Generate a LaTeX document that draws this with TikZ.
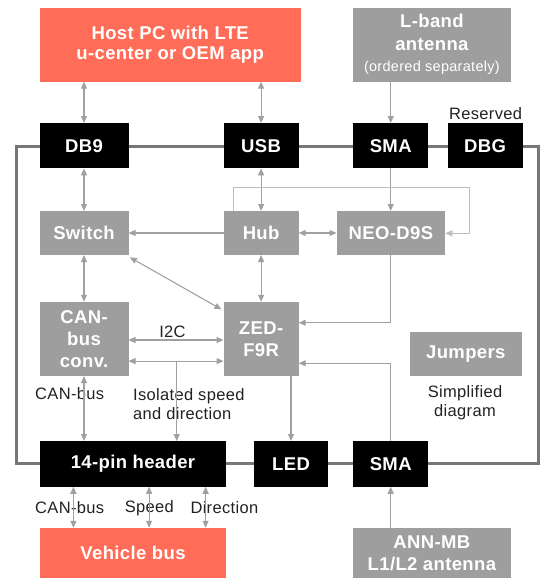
\documentclass[tikz,border=0pt]{standalone}
\usepackage{fontspec}
\setmainfont{Liberation Sans}[LetterSpace=2]
\newfontfamily\boxfont{Liberation Sans}[LetterSpace=2]
\usetikzlibrary{arrows.meta,calc}
\definecolor{salmon}{HTML}{FF6C58}
\definecolor{boxgray}{HTML}{9E9E9E}
\definecolor{framegray}{HTML}{767676}
\definecolor{linegray}{HTML}{A0A0A0}
\definecolor{loopgray}{HTML}{BDBDBD}
\definecolor{labeltext}{HTML}{222222}
\begin{document}
\begin{tikzpicture}[x=1pt,y=-1pt,
  box/.style={inner sep=0pt, outer sep=0pt, text=white, align=center,
    font=\boxfont\fontsize{18.5}{22}\selectfont\bfseries},
  hostbox/.style={box, fill=salmon},
  graybox/.style={box, fill=boxgray},
  blackbox/.style={box, fill=black},
  tip/.tip={Triangle[length=7pt,width=6pt]},
  conn/.style={draw=linegray, line width=1.1pt, -tip},
  biconn/.style={draw=linegray, line width=1.1pt, tip-tip},
  loopconn/.style={draw=loopgray, line width=1pt, -tip},
  lbl/.style={font=\fontsize{16.5}{18.5}\selectfont, text=labeltext, inner sep=0pt, align=left}
]
\useasboundingbox (0,0) rectangle (540,578);

% outer frame
\draw[framegray, line width=3pt] (16.2,146.5) rectangle (538,463.5);

% top external boxes
\node[hostbox, minimum width=261pt, minimum height=74pt, font=\boxfont\fontsize{18.5}{20}\selectfont\bfseries] (host) at (170.2,44.7) {Host PC with LTE\\u-center or OEM app};
\node[graybox, minimum width=157.7pt, minimum height=74pt, font=\boxfont\fontsize{18.5}{23}\selectfont\bfseries] (lband) at (431.9,44.7) {L-band\\antenna\\[-2pt]{\fontsize{14.5}{18}\selectfont\mdseries(ordered separately)}};

% connectors on frame top
\node[blackbox, minimum width=89pt, minimum height=45.3pt] (db9) at (84,145.7) {DB9};
\node[blackbox, minimum width=75.2pt, minimum height=45.3pt] (usb) at (261.1,145.7) {USB};
\node[blackbox, minimum width=75.5pt, minimum height=45.3pt] (sma1) at (390.7,145.7) {SMA};
\node[blackbox, minimum width=74.8pt, minimum height=45.3pt] (dbg) at (485.1,145.7) {DBG};
\node[lbl] (reserved) at (485.6,113.6) {Reserved};

% inner blocks
\node[graybox, minimum width=89pt, minimum height=44pt] (switch) at (84,233) {Switch};
\node[graybox, minimum width=75.2pt, minimum height=44pt] (hub) at (261.1,233) {Hub};
\node[graybox, minimum width=108.8pt, minimum height=44pt] (neo) at (390.9,233) {NEO-D9S};
\node[graybox, minimum width=89pt, minimum height=74.3pt] (can) at (84,338.9) {CAN-\\bus\\conv.};
\node[graybox, minimum width=75.2pt, minimum height=74.3pt] (zed) at (261.1,338.9) {ZED-\\F9R};
\node[graybox, minimum width=112pt, minimum height=44.3pt] (jumpers) at (465.8,353.9) {Jumpers};

% bottom frame connectors
\node[blackbox, minimum width=186.7pt, minimum height=45.7pt] (header) at (133,463.9) {14-pin header};
\node[blackbox, minimum width=74.4pt, minimum height=45.7pt] (led) at (291,463.9) {LED};
\node[blackbox, minimum width=75.5pt, minimum height=45.7pt] (sma2) at (390.7,463.9) {SMA};

% bottom external boxes
\node[hostbox, minimum width=186.7pt, minimum height=50.3pt] (vehicle) at (133,552.9) {Vehicle bus};
\node[graybox, minimum width=157.7pt, minimum height=50.3pt] (ann) at (431.9,552.9) {ANN-MB\\L1/L2 antenna};

% labels
\node[lbl, anchor=west] (canlbl1) at (35,393.3) {CAN-bus};
\node[lbl, anchor=west] (isolbl) at (133,404.2) {Isolated speed\\and direction};
\node[lbl, align=center] (simplbl) at (465,402.5) {Simplified\\diagram};
\node[lbl] (i2clbl) at (172.5,331.7) {I2C};
\node[lbl, anchor=west] (canlbl2) at (35,508) {CAN-bus};
\node[lbl] (speedlbl) at (149.3,508.7) {Speed};
\node[lbl] (dirlbl) at (224.4,508) {Direction};

% helper coordinates
\coordinate (lt) at (469,187.3);
\coordinate (iso) at (176.7,361.1);
\coordinate (v1) at (73.4,500);
\coordinate (v2) at (149.1,500);
\coordinate (v3) at (205.6,500);

% external links
\draw[biconn] (db9.north) -- (db9.north |- host.south);
\draw[biconn] (usb.north) -- (usb.north |- host.south);
\draw[conn] (sma1.north |- lband.south) -- (sma1.north);

% internal links
\draw[biconn] (db9.south) -- (switch.north);
\draw[biconn] (usb.south) -- (hub.north);
\draw[conn] (sma1.south) -- (sma1.south |- neo.north);
\draw[loopconn] ([xshift=9.7pt]hub.north west) |- (lt) |- ([yshift=-0.3pt]neo.east);
\draw[conn] (hub.west) -- (switch.east);
\draw[biconn] (hub.east) -- (neo.west);
\draw[biconn] ([shift={(1.3pt,-2.3pt)}]switch.south east) -- ([shift={(-2.1pt,-7.6pt)}]zed.north west);
\draw[biconn] (hub.south) -- (zed.north);
\draw[biconn] (switch.south) -- (can.north);
\draw[conn] (neo.south) |- ([yshift=16.2pt]zed.east);
\draw[conn] (sma2.north) |- ([yshift=-24.4pt]zed.east);
\draw[biconn] ([yshift=-1.1pt]can.east) -- ([yshift=-1.1pt]zed.west);
\draw[biconn] ([yshift=-22.2pt]can.east) -- ([yshift=-22.2pt]zed.west);
\draw[conn] (iso) -- (iso |- header.north);
\draw[conn] (led.north |- zed.south) -- (led.north);
\draw[biconn] (can.south) -- (can.south |- header.north);

% vehicle links
\draw[biconn] (v1 |- header.south) -- (v1 |- vehicle.north);
\draw[biconn] (v2 |- header.south) -- (v2 |- vehicle.north);
\draw[biconn] (v3 |- header.south) -- (v3 |- vehicle.north);
\draw[conn] (ann.north -| sma2) -- (sma2.south);
\end{tikzpicture}
\end{document}
